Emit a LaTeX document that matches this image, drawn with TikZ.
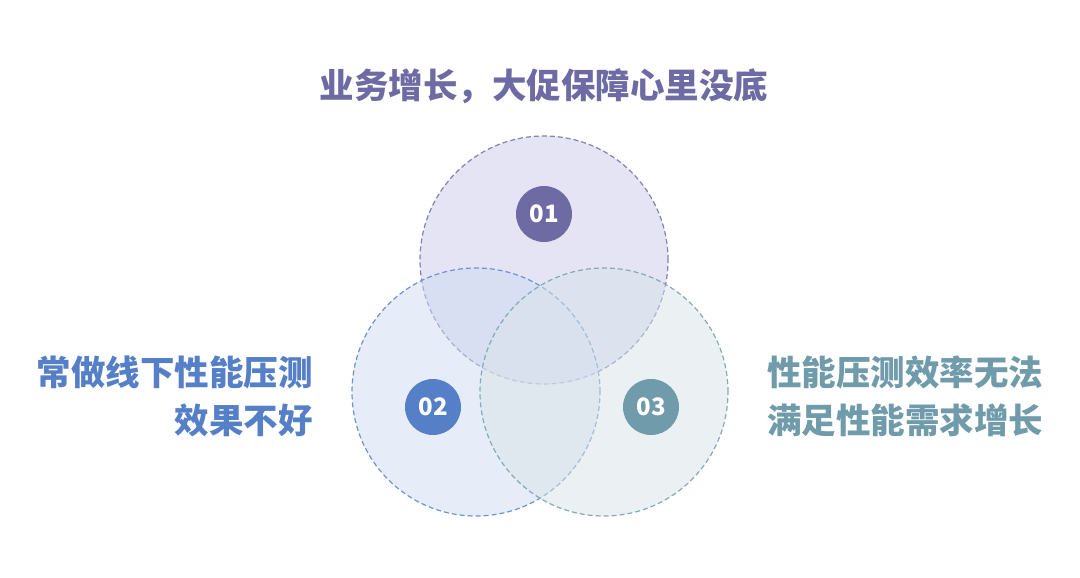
\documentclass[tikz,border=0pt]{standalone}
\usepackage{fontspec}
\usepackage{xcolor}
\newfontfamily\cjk{Noto Sans CJK SC}
\definecolor{topc}{HTML}{6E6AA3}
\definecolor{leftc}{HTML}{5580C8}
\definecolor{rightc}{HTML}{6F9BAA}
\definecolor{topfill}{HTML}{CBCAEC}
\definecolor{leftfill}{HTML}{D0DCF2}
\definecolor{rightfill}{HTML}{D8E3E8}
\tikzset{
  ring/.style={circle,minimum size=248pt,inner sep=0pt,dash pattern=on 5pt off 3pt,line width=1.2pt,fill opacity=0.5,draw opacity=1},
  badge/.style={circle,minimum size=56pt,inner sep=0pt,text=white,font=\cjk\bfseries\fontsize{24}{24}\selectfont},
  caption/.style={font=\cjk\bfseries\fontsize{34.5}{48}\selectfont,inner sep=0pt}
}

\begin{document}
\begin{tikzpicture}[x=1pt,y=-1pt]
  \useasboundingbox[fill=white] (0,0) rectangle (1080,578);
  \node[ring,fill=topfill,draw=topc!85] (ring1) at (544,260) {};
  \node[ring,fill=leftfill,draw=leftc!85] (ring2) at (476,392) {};
  \node[ring,fill=rightfill,draw=rightc!85] (ring3) at (604,392) {};
  \node[badge,fill=topc] (b1) at (544,214) {01};
  \node[badge,fill=leftc] (b2) at (433,407) {02};
  \node[badge,fill=rightc] (b3) at (651,407) {03};
  \node[caption,text=topc] (t1) at (544,86) {业务增长，大促保障心里没底};
  \node[caption,text=leftc,align=right,anchor=east] (t2) at (313,396) {常做线下性能压测\\效果不好};
  \node[caption,text=rightc,align=left,anchor=west] (t3) at (767,396) {性能压测效率无法\\满足性能需求增长};
\end{tikzpicture}
\end{document}
